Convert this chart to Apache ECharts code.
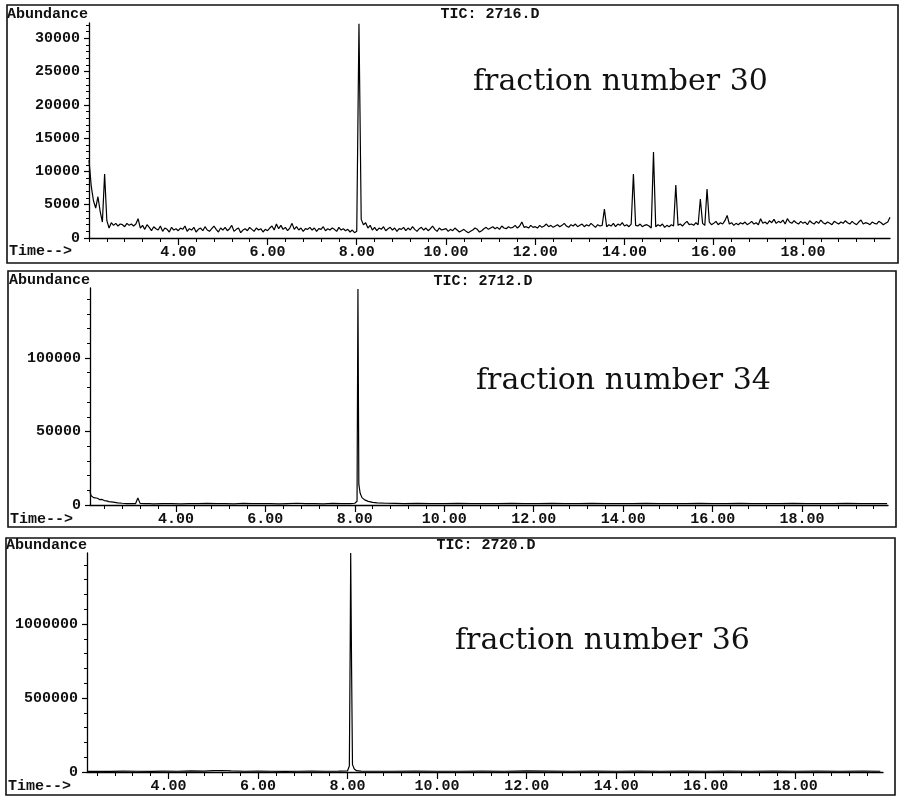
<!DOCTYPE html>
<html>
<head>
<meta charset="utf-8">
<script src="https://cdn.jsdelivr.net/npm/echarts@6/dist/echarts.min.js"></script>
<style>
html,body{margin:0;padding:0;background:#fff;}
#c{width:901px;height:796px;}
</style>
</head>
<body>
<div id="c"></div>
<script>
// ---------- DATA ----------
// Panel 1 (TIC: 2716.D, fraction number 30): regular sampling from 2.00 min, every 0.05 min
const time1Start = 2.0;
const time1Step = 0.05;
const abundance1 = [
11700,7800,5600,4500,6200,4000,2400,9600,2600,1500,
2300,1900,2200,1800,2100,2000,1700,2200,1900,2100,
1800,2100,2900,1500,1900,1300,2000,1600,1100,1700,
1400,1200,1800,1000,1500,1300,900,1600,1200,1400,
1100,1500,1300,1800,1000,1400,1200,1600,900,1300,
1500,1100,1700,1200,1000,1400,1800,1300,900,1500,
1200,1600,1100,1400,1900,1000,1300,1500,800,1200,
1400,1100,1600,1300,1000,1500,1200,1400,900,1300,
1100,1500,1800,1200,2100,1400,1900,1300,1600,1100,
1500,2200,1300,1700,1200,1500,1000,1400,1300,1600,
1200,1500,1000,1400,1300,1700,1100,1400,1200,1500,
1300,1000,1600,1200,1400,1100,1300,900,1200,800,
1000,32200,2800,2000,2300,1500,1900,1200,1600,1100,
1500,1300,1700,1100,1400,1600,1200,1500,1000,1400,
1300,1600,1100,1500,1200,1700,1300,1000,1400,1600,
1200,1500,1100,1400,1800,1300,1000,1500,1200,1300,
1400,1000,1300,1100,1500,1200,900,1100,1300,1000,
800,1000,1200,1500,1300,900,1100,1400,1600,1300,
1500,1700,1400,1600,1300,1800,1500,1400,1700,1500,
1600,1900,1500,1800,2400,1600,1700,1500,1900,1600,
1700,1500,1900,1600,1800,2100,1700,1900,1600,1800,
2000,1700,1900,2200,1800,1600,2000,1800,2100,1700,
1900,2100,1700,2000,1800,2200,1900,1600,2000,1800,
1900,4350,1700,2000,1800,2200,1700,2100,1900,2300,
1800,2000,1700,2100,9600,1900,1800,2100,1700,1900,
2000,1800,1500,12900,1700,2000,1800,2100,1600,1900,
1700,2000,1800,7950,1900,2100,1800,2200,2500,2000,
2100,1900,2300,2000,5850,2200,1900,7350,2400,2000,
2200,2500,2000,2300,2100,2600,3400,2100,2300,1900,
2200,2000,2300,2100,2400,2000,2200,2500,2100,2300,
2000,2900,2200,2400,2100,2600,2300,2800,2200,2500,
2300,2700,2100,2900,2400,2200,2600,2300,2100,2500,
2200,2400,2000,2600,2300,2100,2500,2200,2700,2300,
2100,2400,2200,2000,2500,2300,2100,2400,2200,2600,
2300,2100,2500,2200,2000,2400,2700,2100,2300,2200,
2000,2400,2200,2100,2500,2300,2000,2200,2400,3100
];

// Panel 2 (TIC: 2712.D, fraction number 34)
const time2 = [2.08,2.10,2.13,2.16,2.20,2.25,2.30,2.35,2.40,2.45,2.50,2.60,2.70,2.80,2.90,3.00,3.10,3.15,3.20,3.30,3.40,3.50,3.70,3.90,4.10,4.30,4.50,4.70,4.90,5.10,5.30,5.50,5.70,5.90,6.10,6.30,6.50,6.70,6.90,7.10,7.30,7.50,7.70,7.90,8.00,8.05,8.07,8.09,8.12,8.16,8.22,8.30,8.40,8.50,8.70,8.90,9.10,9.40,9.70,10.00,10.30,10.60,10.90,11.20,11.50,11.80,12.10,12.40,12.70,13.00,13.30,13.60,13.90,14.20,14.50,14.80,15.10,15.40,15.70,16.00,16.30,16.60,16.90,17.20,17.50,17.80,18.10,18.40,18.70,19.00,19.30,19.60,19.90];
const abundance2 = [9500,6500,5500,5000,4300,4600,3600,3800,3000,2800,2300,2000,1500,1200,1000,900,1000,4800,1100,900,1000,800,1000,900,800,1000,900,1100,900,1000,800,1100,900,1000,900,800,1000,1200,900,1000,800,1100,900,1000,1200,2500,147000,14000,8000,5000,3500,2500,1800,1500,1200,1100,1000,1100,900,1000,1100,900,1000,1000,1100,900,1000,1100,1000,900,1100,1000,900,1000,1100,1000,900,1000,1100,1000,900,1100,1000,1000,900,1100,1000,900,1000,1100,1000,900,1000];

// Panel 3 (TIC: 2720.D, fraction number 36)
const time3 = [2.18,2.40,2.70,3.00,3.30,3.60,3.90,4.20,4.50,4.80,5.00,5.20,5.40,5.70,6.00,6.30,6.60,6.90,7.20,7.50,7.80,8.00,8.04,8.06,8.07,8.09,8.11,8.15,8.20,8.30,8.60,9.00,9.50,10.00,10.50,11.00,11.50,12.00,12.50,13.00,13.50,14.00,14.50,15.00,15.50,16.00,16.50,17.00,17.50,18.00,18.50,19.00,19.50,19.90];
const abundance3 = [4000,5000,4000,6000,5000,4000,6000,5000,7000,6000,9000,10000,7000,5000,6000,5000,4000,5000,6000,5000,6000,8000,40000,900000,1480000,700000,50000,20000,9000,6000,5000,5000,6000,5000,5000,6000,5000,7000,6000,5000,6000,5000,6000,5000,6000,5000,6000,5000,6000,5000,6000,5000,6000,5000];

// Tick labels
const timeTickLabels = [4, 6, 8, 10, 12, 14, 16, 18];
const yTickLabels1 = [0, 5000, 10000, 15000, 20000, 25000, 30000];
const yTickLabels2 = [0, 50000, 100000];
const yTickLabels3 = [0, 500000, 1000000];
const panelTitles = ['TIC: 2716.D', 'TIC: 2712.D', 'TIC: 2720.D'];
const fractionTexts = ['fraction number 30', 'fraction number 34', 'fraction number 36'];

// ---------- LAYOUT ----------
const panels = [
  {box:[7,5,891,258], grid:{left:89, top:23, width:801, height:215}, xmin:2.0, xmax:19.95, ymax:32300, yMinorStep:1000, yLabels:yTickLabels1,
   abx:7, aby:14, ticx:490, ticy:14, timey:251, fx:473, fy:82},
  {box:[8,271,888,256], grid:{left:90, top:288, width:798, height:217}, xmin:2.08, xmax:19.92, ymax:147600, yMinorStep:10000, yLabels:yTickLabels2,
   abx:9, aby:280, ticx:483, ticy:281, timey:519, fx:476, fy:381},
  {box:[6,538,889,257], grid:{left:87, top:553, width:796, height:219}, xmin:2.18, xmax:19.96, ymax:1480000, yMinorStep:100000, yLabels:yTickLabels3,
   abx:6, aby:545, ticx:486, ticy:545, timey:786, fx:455, fy:641}
];

const MONO = '"Liberation Mono", "DejaVu Sans Mono", monospace';
const FS = 15;

function minorX(min, max){
  const out = [];
  for (let k = Math.ceil(min/0.4 - 1e-9); k*0.4 <= max + 1e-9; k++) out.push(Math.round(k*4)/10);
  return out;
}
function minorY(step, max){
  const out = [];
  for (let v = 0; v <= max; v += step) out.push(v);
  return out;
}

const grids = [], xAxes = [], yAxes = [], series = [], graphics = [];
const seriesData = [
  abundance1.map((v,i)=>[+(time1Start + i*time1Step).toFixed(2), v]),
  time2.map((t,i)=>[t, abundance2[i]]),
  time3.map((t,i)=>[t, abundance3[i]])
];

panels.forEach((p, i) => {
  grids.push(Object.assign({containLabel:false}, p.grid));
  xAxes.push({
    type:'value', gridIndex:i, min:p.xmin, max:p.xmax, position:'bottom',
    axisLine:{show:true, onZero:false, lineStyle:{color:'#000', width:1.3}},
    axisTick:{show:true, customValues:minorX(p.xmin, p.xmax), length:4, lineStyle:{color:'#000', width:1}},
    axisLabel:{show:true, customValues:timeTickLabels, formatter:v=>v.toFixed(2), margin:7, color:'#111', fontFamily:MONO, fontWeight:'bold', fontSize:FS},
    splitLine:{show:false}
  });
  yAxes.push({
    type:'value', gridIndex:i, min:0, max:p.ymax, position:'left',
    axisLine:{show:true, onZero:false, lineStyle:{color:'#000', width:1.3}},
    axisTick:{show:true, customValues:minorY(p.yMinorStep, p.ymax), length:3, lineStyle:{color:'#000', width:1}},
    axisLabel:{show:true, customValues:p.yLabels, formatter:v=>String(v), margin:9, color:'#111', fontFamily:MONO, fontWeight:'bold', fontSize:FS},
    splitLine:{show:false}
  });
  series.push({
    type:'line', xAxisIndex:i, yAxisIndex:i, data:seriesData[i],
    showSymbol:false, symbol:'none', sampling:null, animation:false,
    lineStyle:{color:'#000', width:1.2}
  });
  graphics.push({type:'rect', shape:{x:p.box[0], y:p.box[1], width:p.box[2], height:p.box[3]},
    style:{fill:null, stroke:'#111', lineWidth:1.6}, silent:true});
  graphics.push({type:'text', x:p.abx, y:p.aby, style:{text:'Abundance', align:'left', verticalAlign:'middle', fill:'#111', font:'bold ' + FS + 'px ' + MONO}});
  graphics.push({type:'text', x:p.ticx, y:p.ticy, style:{text:panelTitles[i], align:'center', verticalAlign:'middle', fill:'#111', font:'bold ' + FS + 'px ' + MONO}});
  graphics.push({type:'text', x:p.box[0] + 2, y:p.timey, style:{text:'Time-->', align:'left', verticalAlign:'middle', fill:'#111', font:'bold ' + FS + 'px ' + MONO}});
  graphics.push({type:'text', x:p.fx, y:p.fy, style:{text:fractionTexts[i], align:'left', verticalAlign:'middle', fill:'#111', font:'30px "DejaVu Serif", serif'}});
});

// major (longer) ticks overlay
panels.forEach((p, i) => {
  xAxes.push({
    type:'value', gridIndex:i, min:p.xmin, max:p.xmax, position:'bottom',
    axisLine:{show:false}, axisTick:{show:true, customValues:timeTickLabels, length:7, lineStyle:{color:'#000', width:1.2}},
    axisLabel:{show:false}, splitLine:{show:false}
  });
  yAxes.push({
    type:'value', gridIndex:i, min:0, max:p.ymax, position:'left',
    axisLine:{show:false}, axisTick:{show:true, customValues:p.yLabels, length:5, lineStyle:{color:'#000', width:1.2}},
    axisLabel:{show:false}, splitLine:{show:false}
  });
});

const chart = echarts.init(document.getElementById('c'), null, {renderer:'canvas'});
chart.setOption({
  animation:false,
  backgroundColor:'#fff',
  grid:grids, xAxis:xAxes, yAxis:yAxes, series:series, graphic:graphics
});
</script>
</body>
</html>
